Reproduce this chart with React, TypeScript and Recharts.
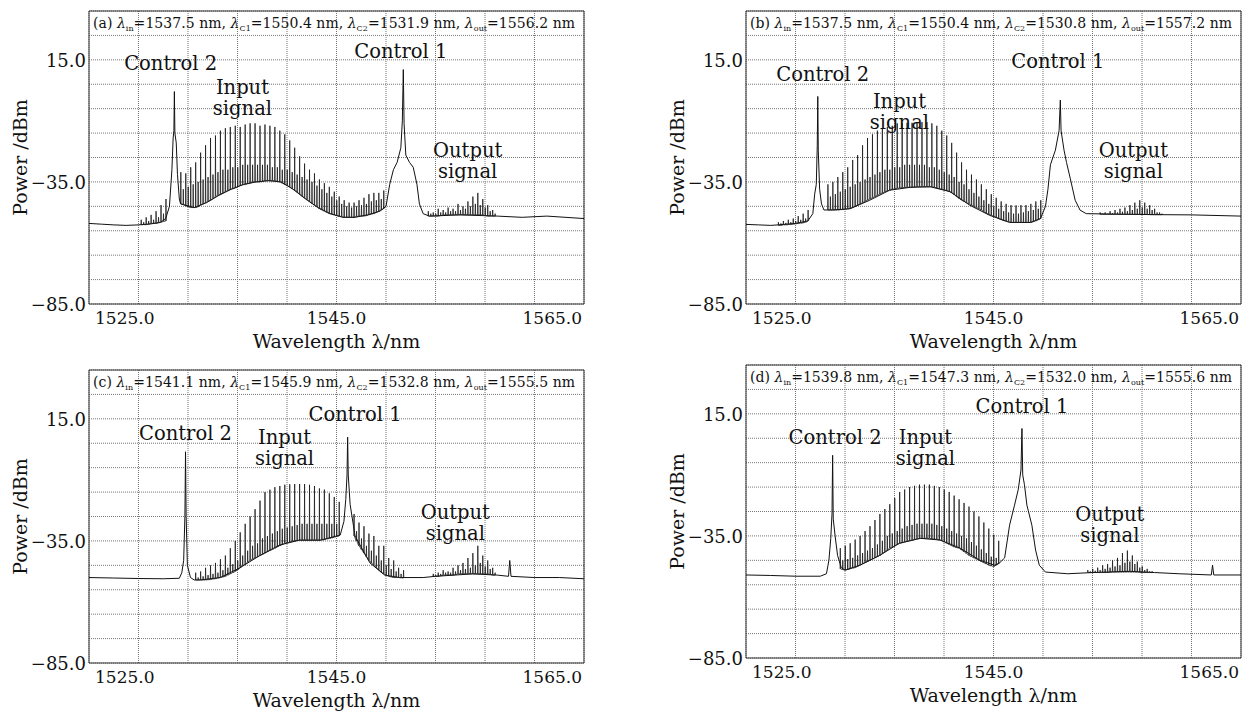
import React from 'react';
import {
  LineChart,
  Line,
  XAxis,
  YAxis,
  CartesianGrid,
  ReferenceArea,
  ReferenceDot
} from 'recharts';

const FONT = '"DejaVu Serif", "Liberation Serif", serif';

// axes: OSA screen, 1525-1565 nm (4 nm/div), 35 to -85 dBm (10 dB/div)
const xTicks = [1525, 1529, 1533, 1537, 1541, 1545, 1549, 1553, 1557, 1561, 1565];
const yTicks = [-85, -75, -65, -55, -45, -35, -25, -15, -5, 5, 15, 25, 35];
const xLabelled = [1525, 1545, 1565];
const yLabelled = [15, -35, -85];
// comb lines are read every 0.2 nm
const combStep = 0.2;

// ---------- (a) ----------
const headerA = ['(a)', '1537.5', '1550.4', '1531.9', '1556.2'];
const baseA: [number, number][] = [
  [1525.0, -52.0], [1526.0, -52.3], [1527.0, -52.6], [1528.0, -52.8], [1529.0, -52.6], [1530.0, -52.2],
  [1530.8, -51.5], [1531.2, -50.0], [1531.5, -45.0], [1531.7, -30.0], [1531.8, -17.0], [1531.86, -14.0],
  [1531.9, 2.0], [1531.94, -15.0], [1532.05, -19.0], [1532.15, -32.0], [1532.3, -42.0], [1532.4, -44.0],
  [1533.5, -45.5], [1534.5, -43.5], [1535.5, -40.5], [1536.5, -38.0], [1537.5, -36.0], [1538.5, -35.0],
  [1539.5, -34.5], [1540.5, -35.0], [1541.5, -38.0], [1542.5, -42.0], [1543.5, -45.5], [1544.5, -48.0],
  [1545.5, -49.5], [1546.5, -49.5], [1547.5, -48.5], [1548.5, -47.0], [1549.0, -45.0], [1549.3, -36.0],
  [1549.6, -30.0], [1549.9, -27.0], [1550.2, -21.0], [1550.32, -10.0], [1550.4, 11.0], [1550.46, -11.0],
  [1550.6, -24.0], [1550.9, -27.0], [1551.2, -29.0], [1551.5, -36.0], [1551.7, -44.0], [1552.0, -48.0],
  [1552.5, -49.0], [1555.0, -48.5], [1558.0, -49.0], [1560.0, -49.5], [1562.0, -49.0], [1565.0, -50.0]
];
const combStartA = 1529.2;
const combTopA = [
  -50.5, -51.5, -49.5, -51, -48.5, -50.5, -47, -49.5, -44.5, -48, -42,
  null, null, null, null, null,
  -31, -38, -31.5, -37, -29, -36, -27, -35, -23, -34, -20, -33, -17, -32, -16, -31, -14, -30, -13, -30,
  -12.5, -29, -12, -29, -12.5, -28, -11.5, -28, -11, -28, -11, -28, -12, -28, -11.5, -28, -12, -29, -12.5,
  -29, -14, -30, -15.5, -30, -18, -31, -21, -32, -24.5, -33, -27.5, -34, -30, -35, -31.5, -36.5, -34, -38,
  -35.5, -39.5, -37, -41, -39, -42.5, -41, -44, -42.5, -45, -43.5, -45.5, -43.5, -45, -42.5, -44.5, -41.5,
  -44, -40, -43, -39.5, -42.5, -39.5, -42, -38.5
];
const combLowA = [
  -52.5, -52.5, -52.5, -52.3, -52, -52, -52, -51.8, -51.5, -51.2, -51,
  null, null, null, null, null,
  -44, -44.3, -44.8, -45.2, -45.5, -45.5, -45.5, -45.2, -44.5, -44, -43.5, -43, -42.5, -41.8, -41, -40.5,
  -40, -39.5, -39, -38.5, -38, -37.8, -37.5, -37, -36.5, -36.2, -36, -35.8, -35.5, -35.2, -35, -35, -35,
  -34.8, -34.5, -34.5, -34.5, -34.5, -34.5, -34.8, -35, -35.5, -36, -36.5, -37, -37.8, -38.5, -39.2, -40,
  -40.8, -41.5, -42.2, -43, -43.8, -44.5, -45.2, -46, -46.5, -47, -47.5, -48, -48.2, -48.5, -48.8, -49,
  -49.2, -49.5, -49.5, -49.5, -49.5, -49.5, -49.2, -49, -49, -49, -48.8, -48.5, -48.2, -48, -47.5, -47,
  -46.5, -46
];
const outStartA = 1552.4;
const outTopA = [
  -47, -48, -47.5, -48, -46, -47.5, -46.5, -47.5, -45.5, -47, -46, -47, -44, -46.5, -45, -46, -43, -45,
  -41, -44, -39.5, -44.5, -42, -45.5, -44.5, -47, -46.5, -48
];
const outLowA = [
  -49, -49, -49, -49, -49, -48.8, -48.5, -48.5, -48.5, -48.5, -48.5, -48.5, -48.5, -48.5, -48.5, -48.5,
  -48.5, -48.5, -48.5, -48.5, -48.5, -48.5, -48.5, -48.8, -49, -49, -49, -49
];

// ---------- (b) ----------
const headerB = ['(b)', '1537.5', '1550.4', '1530.8', '1557.2'];
const baseB: [number, number][] = [
  [1525.0, -52.4], [1526.0, -52.6], [1527.0, -52.8], [1527.6, -52.6], [1529.0, -52.0], [1530.0, -51.0],
  [1530.4, -48.0], [1530.55, -40.0], [1530.68, -36.0], [1530.76, -20.0], [1530.8, 0.0], [1530.84, -22.0],
  [1530.95, -38.0], [1531.1, -44.0], [1531.3, -46.5], [1532.0, -46.5], [1533.4, -46.0], [1535.0, -42.5],
  [1536.6, -38.4], [1538.3, -37.2], [1539.9, -37.0], [1541.5, -39.0], [1543.1, -44.6], [1544.7, -48.7],
  [1546.3, -51.6], [1548.0, -51.6], [1548.8, -50.0], [1549.2, -45.0], [1549.4, -38.0], [1549.6, -28.0],
  [1550.0, -22.0], [1550.3, -14.0], [1550.4, -1.5], [1550.46, -14.0], [1550.7, -22.0], [1550.9, -27.0],
  [1551.2, -33.5], [1551.6, -42.5], [1552.0, -46.6], [1552.5, -48.0], [1555.0, -48.2], [1558.0, -48.4],
  [1561.0, -48.5], [1565.0, -49.0]
];
const combStartB = 1527.6;
const combTopB = [
  -51.5, -52, -51, -51.8, -50.5, -51.5, -50, -51, -49, -50.5, -48, -50, -46.5,
  null, null, null, null, null, null, null,
  -36, -41, -35, -40, -33, -39, -31, -38, -29, -37, -26, -36, -24, -35, -20, -34, -17, -33, -15.5, -32,
  -14, -31, -13, -30, -12.5, -30, -12, -29, -11, -29, -11, -28, -10.8, -28, -10.8, -28, -10.5, -28, -10.5,
  -28, -10.5, -29, -11, -29, -12, -30, -14, -31, -16, -32, -19, -33, -23, -35, -27, -36, -30, -38, -32,
  -39.5, -34, -41, -36, -42.5, -38, -44, -40, -45, -41.5, -46, -43, -47, -44, -47.5, -44.5, -48, -44.6,
  -48, -44.5, -47.5, -44.5, -47, -44, -46.5, -43, -46, -42.5
];
const combLowB = [
  -52.8, -52.8, -52.6, -52.6, -52.5, -52.4, -52.3, -52.2, -52, -51.9, -51.8, -51.5, -51,
  null, null, null, null, null, null, null,
  -46.5, -46.5, -46.5, -46.5, -46.5, -46.4, -46.3, -46.2, -46, -45.8, -45.5, -45, -44.5, -44, -43.5, -43,
  -42.5, -42, -41.5, -41, -40.5, -40, -39.5, -39, -38.7, -38.4, -38, -37.8, -37.6, -37.5, -37.4, -37.3,
  -37.2, -37.2, -37.2, -37.1, -37, -37, -37, -37, -37, -37, -37, -37.2, -37.5, -37.8, -38, -38.2, -38.5,
  -39, -39.5, -40.2, -41, -41.8, -42.5, -43, -43.5, -44, -44.6, -45, -45.5, -46, -46.5, -47.2, -47.8,
  -48.3, -48.7, -49.1, -49.5, -50, -50.5, -50.8, -51, -51.3, -51.6, -51.6, -51.6, -51.6, -51.6, -51.6,
  -51.6, -51.6, -51.6, -51.3, -51, -50.5, -50
];
const outStartB = 1553.6;
const outTopB = [
  -47.5, -48, -47.5, -48, -47, -47.8, -46.5, -47.5, -46, -47.2, -45.5, -47, -44.5, -46.5, -43.5, -46,
  -42.5, -45.5, -43.5, -46, -44.5, -46.5, -46, -47.5, -47.5, -48
];
const outLowB = [
  -48.3, -48.3, -48.3, -48.3, -48.3, -48.3, -48.3, -48.3, -48.3, -48.3, -48.3, -48.3, -48.3, -48.3,
  -48.3, -48.3, -48.3, -48.3, -48.3, -48.3, -48.4, -48.4, -48.4, -48.4, -48.4, -48.4
];

// ---------- (c) ----------
const headerC = ['(c)', '1541.1', '1545.9', '1532.8', '1555.5'];
const baseC: [number, number][] = [
  [1525.0, -50.0], [1527.0, -50.2], [1529.0, -50.4], [1531.0, -50.5], [1532.3, -50.3], [1532.5, -48.0],
  [1532.65, -43.0], [1532.75, -25.0], [1532.8, 1.5], [1532.85, -25.0], [1532.95, -45.0], [1533.2, -50.0],
  [1533.5, -51.0], [1534.0, -51.0], [1535.6, -50.0], [1537.2, -46.0], [1538.8, -41.0], [1540.4, -36.7],
  [1542.0, -34.7], [1543.7, -34.7], [1545.3, -32.6], [1545.6, -27.0], [1545.75, -18.0], [1545.85, -8.0],
  [1545.9, 7.5], [1545.95, -8.0], [1546.1, -20.0], [1546.5, -33.0], [1547.7, -44.0], [1548.9, -49.0],
  [1550.1, -50.0], [1552.0, -50.0], [1553.0, -49.5], [1556.0, -48.5], [1558.0, -49.0], [1558.9, -49.5],
  [1559.0, -43.0], [1559.1, -49.5], [1561.0, -50.0], [1563.0, -50.0], [1565.0, -50.5]
];
const combStartC = 1533.6;
const combTopC = [
  -48, -50, -47.5, -49.5, -46, -49, -45, -48.5, -44, -48, -42.5, -47, -41, -46, -38, -44.5, -35, -43,
  -31.5, -41, -28, -39, -25, -37, -22, -36, -18.5, -34, -15, -33, -14, -32, -13, -31, -12.5, -30, -12,
  -29.5, -11.8, -29, -11.7, -28.5, -11.7, -28, -11.7, -28, -12, -28, -12.5, -28, -13.5, -28, -14, -28,
  -15.5, -28, -17, -28, -19,
  null, null, null, null, null,
  -24, -31, -27.5, -34, -29, -37, -32, -39, -33, -41, -37, -43, -37, -45, -42, -46.5, -43, -47.5, -46,
  -48.5, -47
];
const combLowC = [
  -51, -51, -51, -51, -51, -50.9, -50.8, -50.6, -50.5, -50.2, -50, -49.8, -49.5, -49, -48.5, -48, -47.5,
  -46.8, -46, -45.2, -44.5, -43.8, -43, -42.5, -42, -41.5, -41, -40.5, -40, -39.5, -39, -38.5, -38, -37.5,
  -37, -36.5, -36, -35.7, -35.5, -35.2, -35, -34.8, -34.7, -34.7, -34.7, -34.7, -34.7, -34.7, -34.7,
  -34.7, -34.7, -34.6, -34.5, -34.2, -34, -33.8, -33.5, -33.2, -33,
  null, null, null, null, null,
  -33, -35, -37, -38.5, -40, -41.5, -43, -44, -45, -46, -47, -47.8, -48.5, -49, -49.5, -49.8, -50, -50,
  -50, -50.1, -50.2
];
const outStartC = 1552.8;
const outTopC = [
  -48.5, -49, -48, -48.5, -47, -48, -47.5, -48, -46, -47.5, -45, -47, -44, -46.5, -42, -46, -40, -45,
  -37, -44, -41, -45.5, -43, -46.5, -46, -48
];
const outLowC = [
  -49.5, -49.5, -49.5, -49.3, -49, -49, -49, -49, -49, -48.8, -48.5, -48.5, -48.5, -48.5, -48.5, -48.5,
  -48.5, -48.5, -48.5, -48.5, -48.5, -48.5, -48.5, -48.7, -49, -49
];

// ---------- (d) ----------
const headerD = ['(d)', '1539.8', '1547.3', '1532.0', '1555.6'];
const baseD: [number, number][] = [
  [1525.0, -51.0], [1527.0, -51.2], [1529.0, -51.5], [1531.0, -51.5], [1531.5, -50.5], [1531.7, -45.0],
  [1531.85, -36.0], [1531.95, -26.0], [1532.0, -2.0], [1532.05, -28.0], [1532.2, -35.0], [1532.4, -43.0],
  [1532.7, -48.0], [1533.0, -49.0], [1534.2, -47.0], [1535.8, -43.0], [1537.4, -38.0], [1539.1, -36.0],
  [1540.7, -36.7], [1542.3, -40.0], [1543.9, -45.0], [1545.1, -47.0], [1545.5, -46.0], [1545.9, -44.0],
  [1546.3, -30.6], [1546.7, -22.4], [1547.0, -16.0], [1547.22, -8.0], [1547.3, 9.0], [1547.36, -10.0],
  [1547.5, -14.0], [1547.7, -22.4], [1548.1, -30.6], [1548.4, -40.8], [1548.7, -47.0], [1549.2, -49.8],
  [1551.0, -50.5], [1553.0, -50.0], [1556.0, -49.5], [1558.0, -50.0], [1560.0, -50.5], [1562.6, -51.0],
  [1562.7, -47.0], [1562.8, -51.0], [1565.0, -51.0]
];
const combStartD = 1532.6;
const combTopD = [
  -40, -45, -39, -44.5, -38, -44, -36.5, -43, -35, -42, -33, -41, -31, -40, -28.5, -38.5, -26, -37, -24,
  -35, -22, -34, -19.5, -33, -17, -32, -16, -31, -15, -30.5, -14.5, -30, -14, -30, -14, -30, -14, -30,
  -14.5, -30.5, -15, -31, -16, -32, -17, -33, -18.5, -34, -20, -35, -21.5, -36, -23, -37.5, -25, -39, -27,
  -40.5, -29.5, -42, -32, -43.5, -34.5, -44, -37
];
const combLowD = [
  -48.5, -48.8, -49, -48.8, -48.5, -48.2, -48, -47.5, -47, -46.5, -46, -45.5, -45, -44.5, -44, -43.5, -43,
  -42.2, -41.5, -40.8, -40, -39.5, -39, -38.5, -38, -37.8, -37.5, -37.2, -37, -36.8, -36.5, -36.2, -36,
  -36, -36, -36, -36, -36.2, -36.3, -36.5, -36.7, -37, -37.5, -38, -38.5, -39, -39.5, -39.8, -40, -40.8,
  -41.5, -42.2, -43, -43.5, -44, -44.5, -45, -45.5, -46, -46.5, -47, -47.3, -47.5, -47, -46.5
];
const outStartD = 1552.6;
const outTopD = [
  -49, -49.5, -48.5, -49.3, -48, -49, -47, -48.5, -46.5, -48, -45, -47.5, -44, -47, -42, -46, -41, -45.5,
  -43, -46.5, -45.5, -48, -47.5, -49, -48.5, -49.5, -49.5
];
const outLowD = [
  -50, -50, -50, -50, -50, -50, -50, -50, -50, -49.9, -49.8, -49.8, -49.8, -49.8, -49.8, -49.8, -49.8,
  -49.8, -49.8, -49.8, -49.8, -49.9, -50, -50, -50, -50, -50
];

type Pt = { x: number; y: number | null };

function toPts(rows: [number, number][]): Pt[] {
  return rows.map(([x, y]) => ({ x, y }));
}

// each comb line drawn as a thin vertical stroke from its floor to its tip
function comb(start: number, tops: (number | null)[], lows: (number | null)[]): Pt[] {
  const pts: Pt[] = [];
  tops.forEach((t, i) => {
    const x = start + i * combStep;
    const lo = lows[i];
    if (t === null || lo === null) {
      pts.push({ x, y: null });
      return;
    }
    pts.push({ x, y: lo });
    pts.push({ x: x + 0.02, y: t });
    pts.push({ x: x + 0.04, y: lo });
  });
  return pts;
}

const XTick = (props: any) => {
  const { x, y, payload } = props;
  const v = payload.value;
  if (!xLabelled.includes(v)) return <g />;
  const anchor = v === 1525 ? 'start' : v === 1565 ? 'end' : 'middle';
  const dx = v === 1525 ? 6 : v === 1565 ? -2 : 0;
  return (
    <text x={x + dx} y={y + 20} textAnchor={anchor} fontFamily={FONT} fontSize={17} fill="#111">
      {v.toFixed(1)}
    </text>
  );
};

const YTick = (props: any) => {
  const { x, y, payload } = props;
  const v = payload.value;
  if (!yLabelled.includes(v)) return <g />;
  return (
    <text x={x - 3} y={y + 7} textAnchor="end" fontFamily={FONT} fontSize={18} fill="#111">
      {v.toFixed(1).replace('-', '\u2212')}
    </text>
  );
};

const Header = ({ viewBox, parts }: any) => {
  const { x, y } = viewBox;
  const [tag, lin, lc1, lc2, lout] = parts;
  const sub = (s: string) => (
    <tspan dy={3} fontSize={8}>{s}</tspan>
  );
  const lam = <tspan fontStyle="italic">λ</tspan>;
  return (
    <text x={x + 4} y={y + 17} fontFamily={FONT} fontSize={14} fill="#111" textLength={482} lengthAdjust="spacing">
      {tag + ' '}{lam}{sub('in')}<tspan dy={-3}>{`=${lin} nm, `}</tspan>
      {lam}{sub('C1')}<tspan dy={-3}>{`=${lc1} nm, `}</tspan>
      {lam}{sub('C2')}<tspan dy={-3}>{`=${lc2} nm, `}</tspan>
      {lam}{sub('out')}<tspan dy={-3}>{`=${lout} nm`}</tspan>
    </text>
  );
};

const Note = ({ viewBox, lines }: any) => {
  const cx = viewBox.x + viewBox.width / 2;
  const cy = viewBox.y + viewBox.height / 2;
  return (
    <text x={cx} y={cy} textAnchor="middle" fontFamily={FONT} fontSize={19.5} fill="#111">
      {lines.map((l: string, i: number) => (
        <tspan key={i} x={cx} dy={i === 0 ? 7 : 21}>{l}</tspan>
      ))}
    </text>
  );
};

interface NoteSpec { x: number; y: number; lines: string[] }

interface PanelProps {
  left: number;
  top: number;
  header: string[];
  base: [number, number][];
  combs: [number, (number | null)[], (number | null)[]][];
  notes: NoteSpec[];
}

function Panel({ left, top, header, base, combs, notes }: PanelProps) {
  return (
    <div style={{ position: 'absolute', left, top }}>
      <LineChart width={588} height={352} margin={{ top: 11, right: 4, left: 0, bottom: 0 }}>
        <CartesianGrid stroke="#777" strokeDasharray="1 1" />
        <XAxis
          dataKey="x"
          type="number"
          domain={[1525, 1565]}
          ticks={xTicks}
          interval={0}
          allowDataOverflow
          tick={<XTick />}
          tickLine={false}
          axisLine={false}
          tickSize={0}
          tickMargin={0}
          height={48}
          label={{
            value: 'Wavelength λ/nm',
            position: 'insideBottom',
            offset: 4,
            style: { fontFamily: FONT, fontSize: 19, fill: '#111' }
          }}
        />
        <YAxis
          type="number"
          domain={[-85, 35]}
          ticks={yTicks}
          interval={0}
          allowDataOverflow
          tick={<YTick />}
          tickLine={false}
          axisLine={false}
          tickSize={0}
          tickMargin={0}
          width={89}
          label={{
            value: 'Power /dBm',
            angle: -90,
            position: 'insideLeft',
            offset: 20,
            style: { fontFamily: FONT, fontSize: 19, fill: '#111', textAnchor: 'middle' }
          }}
        />
        <ReferenceArea
          x1={1525}
          x2={1565}
          y1={-85}
          y2={35}
          fill="none"
          stroke="#333"
          strokeWidth={1}
          label={(p: any) => <Header viewBox={p.viewBox} parts={header} />}
        />
        <Line
          data={toPts(base)}
          dataKey="y"
          type="linear"
          stroke="#111"
          strokeWidth={1}
          dot={false}
          activeDot={false}
          isAnimationActive={false}
        />
        {combs.map(([s, t, l], i) => (
          <Line
            key={i}
            data={comb(s, t, l)}
            dataKey="y"
            type="linear"
            stroke="#1a1a1a"
            strokeWidth={0.8}
            dot={false}
            activeDot={false}
            isAnimationActive={false}
          />
        ))}
        {notes.map((n, i) => (
          <ReferenceDot
            key={i}
            x={n.x}
            y={n.y}
            r={1}
            fill="none"
            stroke="none"
            label={(p: any) => <Note viewBox={p.viewBox} lines={n.lines} />}
          />
        ))}
      </LineChart>
    </div>
  );
}

export default function App() {
  return (
    <div
      style={{
        position: 'absolute',
        left: 0,
        top: 0,
        width: 1245,
        height: 711,
        overflow: 'hidden',
        background: '#fff'
      }}
    >
      <Panel
        left={0}
        top={0}
        header={headerA}
        base={baseA}
        combs={[[combStartA, combTopA, combLowA], [outStartA, outTopA, outLowA]]}
        notes={[
          { x: 1531.6, y: 13.7, lines: ['Control 2'] },
          { x: 1537.4, y: 3.9, lines: ['Input', 'signal'] },
          { x: 1550.2, y: 18.6, lines: ['Control 1'] },
          { x: 1555.6, y: -22, lines: ['Output', 'signal'] }
        ]}
      />
      <Panel
        left={657}
        top={0}
        header={headerB}
        base={baseB}
        combs={[[combStartB, combTopB, combLowB], [outStartB, outTopB, outLowB]]}
        notes={[
          { x: 1531.2, y: 9, lines: ['Control 2'] },
          { x: 1537.4, y: -1.7, lines: ['Input', 'signal'] },
          { x: 1550.2, y: 14.4, lines: ['Control 1'] },
          { x: 1556.3, y: -21.9, lines: ['Output', 'signal'] }
        ]}
      />
      <Panel
        left={0}
        top={359}
        header={headerC}
        base={baseC}
        combs={[[combStartC, combTopC, combLowC], [outStartC, outTopC, outLowC]]}
        notes={[
          { x: 1532.8, y: 9.2, lines: ['Control 2'] },
          { x: 1540.8, y: 7.5, lines: ['Input', 'signal'] },
          { x: 1546.5, y: 17, lines: ['Control 1'] },
          { x: 1554.6, y: -23.2, lines: ['Output', 'signal'] }
        ]}
      />
      <Panel
        left={657}
        top={354}
        header={headerD}
        base={baseD}
        combs={[[combStartD, combTopD, combLowD], [outStartD, outTopD, outLowD]]}
        notes={[
          { x: 1532.2, y: 5.5, lines: ['Control 2'] },
          { x: 1539.5, y: 5.5, lines: ['Input', 'signal'] },
          { x: 1547.3, y: 18.2, lines: ['Control 1'] },
          { x: 1554.4, y: -26, lines: ['Output', 'signal'] }
        ]}
      />
    </div>
  );
}
